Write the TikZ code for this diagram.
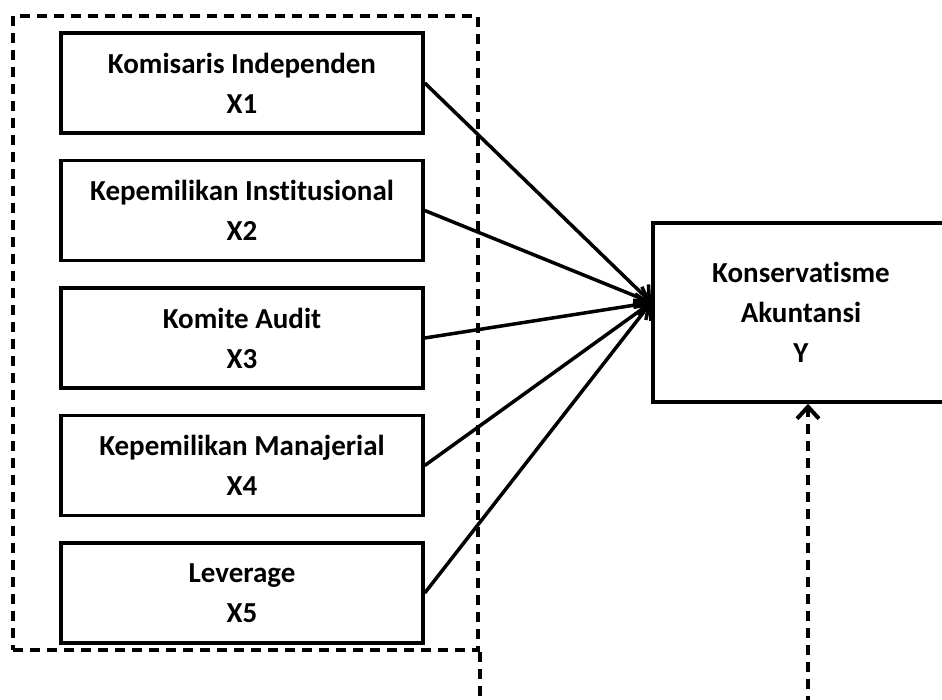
\documentclass[tikz,border=0pt]{standalone}
\usepackage{fontspec}
\setmainfont[Ligatures=NoCommon]{Carlito}
\usetikzlibrary{arrows.meta, positioning}

\begin{document}
\begin{tikzpicture}[x=1pt, y=-1pt, >={Straight Barb[length=12pt,width=22pt]},
    var/.style={draw, line width=3.5pt, minimum width=362pt, minimum height=100pt,
        align=center, font=\bfseries\fontsize{29}{40}\selectfont},
    grpline/.style={line width=4pt, dash pattern=on 10pt off 7pt},
    link/.style={->, line width=3.5pt}]
    \useasboundingbox (0,0) rectangle (942,700);

    % --- variabel independen ---
    \node[var] (x1) at (242,83) {Komisaris Independen\\X1};
    \node[var, below=24pt of x1] (x2) {Kepemilikan Institusional\\X2};
    \node[var, below=24pt of x2] (x3) {Komite Audit\\X3};
    \node[var, below=24pt of x3] (x4) {Kepemilikan Manajerial\\X4};
    \node[var, below=24pt of x4] (x5) {Leverage\\X5};

    % --- kotak putus-putus ---
    \node[draw, grpline, minimum width=465pt, minimum height=634pt] (grp) at (245.5,333) {};

    % --- variabel dependen ---
    \node[var, minimum width=296pt, minimum height=179pt] (y) at (801,312.5) {Konservatisme\\Akuntansi\\Y};
    \coordinate[yshift=10pt] (hub) at (y.west);

    % --- pengaruh parsial ---
    \foreach \i in {1,...,5}
        \draw[link] (x\i.east) -- (hub);

    % --- pengaruh simultan ---
    \coordinate (gfoot) at (480,706);
    \coordinate (yfoot) at (808,706);
    \draw[grpline] (grp.south -| gfoot) -- (gfoot);
    \draw[grpline, ->] (yfoot) -- (y.south -| yfoot);
\end{tikzpicture}
\end{document}
